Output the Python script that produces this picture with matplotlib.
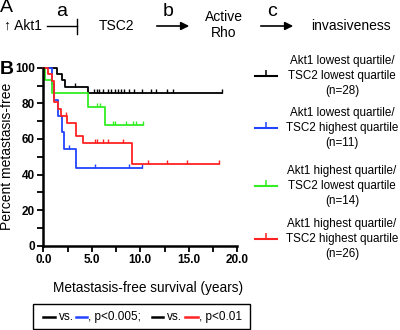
import numpy as np
import matplotlib.pyplot as plt
from matplotlib.patches import Rectangle

plt.rcParams['font.family'] = ['Liberation Sans', 'DejaVu Sans']

# Kaplan-Meier curves: event times (years), survival after each event,
# and censoring times
black_t = [1.44, 1.93, 2.24, 4.64]
black_s = [96.4, 92.9, 89.3, 85.7]
black_cens = [3.27, 5.2, 5.5, 5.75, 6.2, 6.72, 6.95, 7.4, 7.7, 8.0, 8.35, 8.8, 9.4,
              10.2, 11.1, 11.65, 12.75, 13.4, 18.4]

blue_t = [0.87, 1.1, 1.55, 1.9, 2.13, 3.37]
blue_s = [90.9, 81.8, 72.7, 63.6, 54.5, 43.6]
blue_cens = [2.6, 5.33, 8.87, 10.22]

green_t = [0.18, 0.86, 4.64, 6.39]
green_s = [92.9, 85.7, 77.9, 68.0]
green_cens = [5.55, 5.8, 7.22, 7.42, 8.52, 9.2, 9.55, 10.25]

red_t = [0.5, 0.86, 1.1, 1.55, 1.79, 2.42, 3.37, 4.12, 9.11]
red_s = [96.2, 92.3, 80.8, 76.9, 73.1, 69.2, 61.5, 57.7, 45.8]
red_cens = [2.38, 5.37, 5.53, 6.15, 6.72, 8.2, 10.83, 12.75, 14.85, 18.15]

labels = ['Akt1 lowest quartile/\nTSC2 lowest quartile\n(n=28)',
          'Akt1 lowest quartile/\nTSC2 highest quartile\n(n=11)',
          'Akt1 highest quartile/\nTSC2 lowest quartile\n(n=14)',
          'Akt1 highest quartile/\nTSC2 highest quartile\n(n=26)']
colors = ['black', '#2244ff', '#33ee22', '#ff2222']
groups = [(black_t, black_s, black_cens), (blue_t, blue_s, blue_cens),
          (green_t, green_s, green_cens), (red_t, red_s, red_cens)]

fig = plt.figure(figsize=(4, 3.3), dpi=100)

# overlay in pixel coordinates for panel A, legend and bottom box
ov = fig.add_axes([0, 0, 1, 1])
ov.set_xlim(0, 400)
ov.set_ylim(330, 0)
ov.axis('off')

ax = fig.add_axes([43.3 / 400, 1 - 245.7 / 330, 194 / 400, 178 / 330])

for (t, s, cens), c in zip(groups, colors):
    end = max(cens)
    xs = [0] + t + [end]
    ys = [100] + s + [s[-1]]
    ax.plot(xs, ys, drawstyle='steps-post', color=c, lw=1.3, clip_on=False)
    idx = np.searchsorted(t, cens, side='right')
    lev = np.array([100] + s)[idx]
    ax.plot(cens, lev, ls='none', marker=2, markersize=3.2, mew=1.0, color=c, clip_on=False)

ax.set_xlim(0, 20)
ax.set_ylim(0, 100)
ax.spines['top'].set_visible(False)
ax.spines['right'].set_visible(False)
for sp in ['left', 'bottom']:
    ax.spines[sp].set_linewidth(1.8)
ax.set_xticks([0, 5, 10, 15, 20])
ax.set_xticklabels(['0.0', '5.0', '10.0', '15.0', '20.0'])
ax.set_xticks([2.5, 7.5, 12.5, 17.5], minor=True)
ax.set_yticks([0, 20, 40, 60, 80, 100])
ax.set_yticks([10, 30, 50, 70, 90], minor=True)
ax.tick_params(which='both', direction='out', width=1.3, length=4, pad=2)
for lab in ax.get_xticklabels() + ax.get_yticklabels():
    lab.set_fontweight('bold')
    lab.set_fontsize(8.5)
ax.set_ylabel('Percent metastasis-free', fontsize=10)
ax.yaxis.set_label_coords(-0.152, 0.5)
ax.set_xlabel('Metastasis-free survival (years)', fontsize=9.8)
ax.xaxis.set_label_coords(0.54, -0.2)

# legend on the right
leg_y = [76, 128, 186, 239]
for y, c, lab in zip(leg_y, colors, labels):
    ov.plot([255, 277], [y, y], color=c, lw=1.5)
    ov.plot([266], [y], marker=2, markersize=4, mew=1.1, color=c)
    ov.text(342, y, lab, ha='center', va='center', multialignment='center',
            fontsize=8.4, linespacing=1.3)

# panel A
ov.text(0, 8, 'A', fontsize=14, va='center')
ov.text(4, 26, '\u2191 Akt1', fontsize=10, va='center')
ov.plot([47, 77], [26, 26], color='k', lw=1)
ov.plot([77, 77], [19, 34], color='k', lw=1)
ov.text(62, 12, 'a', fontsize=14, ha='center', va='center')
ov.text(117, 26, 'TSC2', fontsize=10, ha='center', va='center')
ov.annotate('', xy=(192, 26), xytext=(154, 26),
            arrowprops=dict(arrowstyle='-|>', color='k', lw=1.2, mutation_scale=12))
ov.text(168, 12, 'b', fontsize=14, ha='center', va='center')
ov.text(224, 25, 'Active\nRho', fontsize=10, ha='center', va='center', linespacing=1.15)
ov.annotate('', xy=(296, 26), xytext=(258, 26),
            arrowprops=dict(arrowstyle='-|>', color='k', lw=1.2, mutation_scale=12))
ov.text(272, 12, 'c', fontsize=14, ha='center', va='center')
ov.text(351, 26, 'invasiveness', fontsize=10, ha='center', va='center')

ov.text(0, 69, 'B', fontsize=14, fontweight='bold', va='center')

# bottom significance box
ov.add_patch(Rectangle((33, 304), 217, 25, fill=False, lw=1, ec='k'))
yb = 317
ov.plot([43, 55], [yb, yb], color='black', lw=1.8)
ov.text(59, yb, 'vs.', fontsize=8.5, va='center')
ov.plot([76, 87], [yb, yb], color=colors[1], lw=1.8)
ov.text(88, yb, ', p<0.005;', fontsize=8.5, va='center')
ov.plot([152, 163], [yb, yb], color='black', lw=1.8)
ov.text(167, yb, 'vs.', fontsize=8.5, va='center')
ov.plot([185, 198], [yb, yb], color=colors[3], lw=1.8)
ov.text(199, yb, ', p<0.01', fontsize=8.5, va='center')

fig.savefig('out.png', dpi=100)
